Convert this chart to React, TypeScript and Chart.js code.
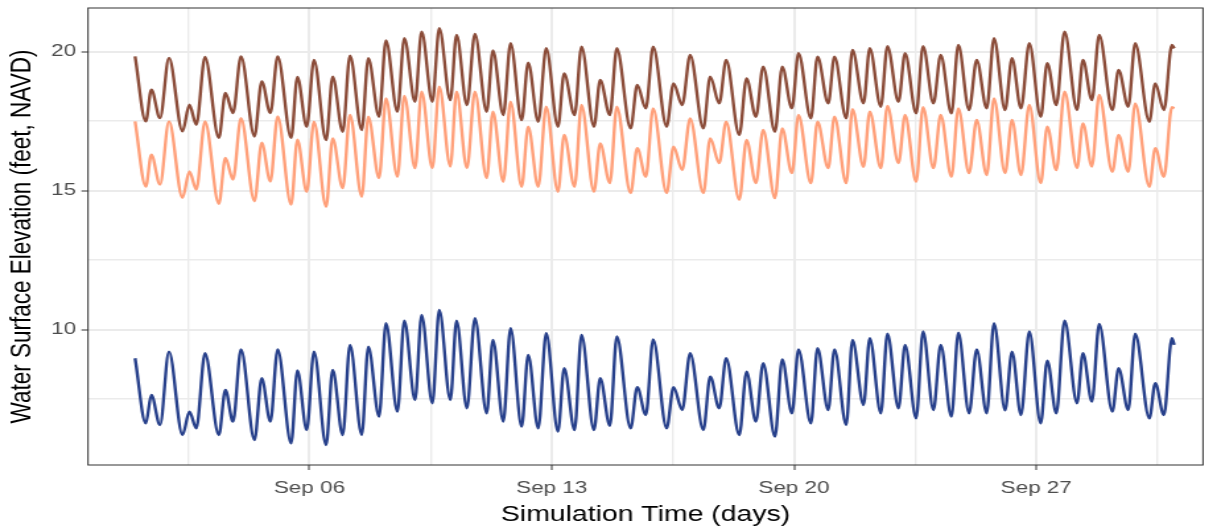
import React, { useEffect, useRef } from 'react';
import { Chart, registerables } from 'chart.js';

Chart.register(...registerables);

// Time of each tidal extreme, in days of September (Sep 1 = 1)
const TIMES = [
  0.96, 1.27, 1.43, 1.68, 1.94, 2.33, 2.53, 2.73, 2.98, 3.38,
  3.57, 3.79, 4.02, 4.41, 4.62, 4.87, 5.08, 5.47, 5.65, 5.92,
  6.13, 6.48, 6.67, 6.96, 7.17, 7.51, 7.70, 8.01, 8.21, 8.54,
  8.74, 9.05, 9.24, 9.55, 9.75, 10.07, 10.25, 10.55, 10.78, 11.12,
  11.30, 11.60, 11.81, 12.13, 12.32, 12.61, 12.84, 13.18, 13.36, 13.66,
  13.86, 14.22, 14.40, 14.68, 14.88, 15.28, 15.47, 15.72, 15.93, 16.32,
  16.52, 16.77, 17.00, 17.38, 17.58, 17.84, 18.04, 18.42, 18.63, 18.90,
  19.11, 19.45, 19.66, 19.94, 20.13, 20.49, 20.68, 20.99, 21.17, 21.51,
  21.69, 22.01, 22.19, 22.51, 22.70, 23.02, 23.21, 23.53, 23.73, 24.03,
  24.24, 24.55, 24.75, 25.06, 25.28, 25.57, 25.78, 26.10, 26.30, 26.56,
  26.80, 27.13, 27.32, 27.58, 27.82, 28.18, 28.35, 28.61, 28.82, 29.20,
  29.38, 29.66, 29.86, 30.27, 30.44, 30.69, 30.92, 30.99,
];

const UPSTREAM = [
  19.83, 17.49, 18.63, 17.61, 19.77, 17.13, 18.09, 17.37, 19.81, 16.90,
  18.51, 17.79, 19.83, 16.95, 18.93, 17.79, 19.83, 16.90, 19.09, 17.30,
  19.70, 16.82, 19.10, 17.12, 19.85, 17.18, 19.76, 17.66, 20.40, 17.84,
  20.48, 18.20, 20.72, 18.20, 20.84, 18.26, 20.60, 18.08, 20.64, 17.84,
  20.04, 17.72, 20.30, 17.54, 19.60, 17.48, 20.12, 17.30, 19.22, 17.72,
  20.18, 17.30, 18.98, 17.72, 20.12, 17.24, 18.80, 17.96, 20.18, 17.30,
  18.86, 18.08, 19.88, 17.24, 19.10, 18.14, 19.70, 17.00, 19.04, 17.66,
  19.46, 17.12, 19.46, 17.96, 19.94, 17.60, 19.82, 18.14, 19.82, 17.60,
  20.06, 18.14, 20.12, 18.02, 20.20, 18.20, 19.94, 17.78, 20.20, 18.14,
  19.88, 17.78, 20.24, 17.90, 19.70, 17.96, 20.48, 17.90, 19.76, 17.96,
  20.30, 17.66, 19.58, 18.08, 20.72, 17.90, 19.70, 18.26, 20.60, 17.90,
  19.34, 18.02, 20.30, 17.48, 18.86, 17.90, 20.24, 20.12,
];

const MIDSTREAM = [
  17.49, 15.15, 16.29, 15.22, 17.49, 14.74, 15.69, 15.04, 17.49, 14.53,
  16.18, 15.40, 17.61, 14.62, 16.72, 15.33, 17.67, 14.50, 16.83, 14.96,
  17.48, 14.42, 16.88, 15.09, 17.72, 14.78, 17.66, 15.45, 18.32, 15.50,
  18.41, 15.81, 18.56, 15.81, 18.74, 15.87, 18.56, 15.81, 18.56, 15.45,
  17.84, 15.32, 18.20, 15.14, 17.30, 15.14, 18.02, 14.96, 17.00, 15.14,
  18.08, 14.96, 16.70, 15.27, 18.02, 14.91, 16.53, 15.50, 17.96, 14.91,
  16.58, 15.74, 17.60, 14.91, 16.88, 15.99, 17.48, 14.67, 16.82, 15.27,
  17.18, 14.73, 17.24, 15.63, 17.72, 15.27, 17.48, 15.81, 17.66, 15.27,
  17.93, 15.86, 17.84, 15.81, 18.05, 15.99, 17.72, 15.32, 18.00, 15.81,
  17.72, 15.50, 17.96, 15.63, 17.54, 15.56, 18.32, 15.63, 17.54, 15.56,
  18.08, 15.27, 17.30, 15.74, 18.56, 15.81, 17.42, 15.87, 18.44, 15.68,
  17.00, 15.68, 18.14, 15.14, 16.53, 15.50, 18.00, 17.96,
];

const DOWNSTREAM = [
  8.97, 6.63, 7.65, 6.57, 9.21, 6.21, 7.05, 6.45, 9.15, 6.21,
  7.83, 6.69, 9.29, 6.03, 8.25, 6.69, 9.29, 5.91, 8.53, 6.39,
  9.21, 5.85, 8.55, 6.21, 9.45, 6.21, 9.39, 6.87, 10.23, 7.05,
  10.32, 7.47, 10.53, 7.35, 10.71, 7.47, 10.32, 7.17, 10.41, 6.99,
  9.63, 6.69, 10.05, 6.51, 9.09, 6.45, 9.87, 6.33, 8.61, 6.39,
  9.81, 6.39, 8.25, 6.54, 9.75, 6.45, 7.93, 6.93, 9.65, 6.45,
  7.93, 7.11, 9.15, 6.39, 8.31, 7.17, 8.97, 6.21, 8.49, 6.69,
  8.79, 6.15, 8.93, 6.99, 9.29, 6.63, 9.33, 7.11, 9.29, 6.57,
  9.63, 7.29, 9.69, 6.99, 9.85, 7.17, 9.45, 6.81, 9.93, 7.11,
  9.45, 6.87, 9.89, 6.99, 9.29, 6.99, 10.23, 7.10, 9.21, 6.93,
  9.93, 6.63, 8.88, 6.99, 10.32, 7.35, 9.15, 7.41, 10.20, 7.05,
  8.61, 7.11, 9.85, 6.81, 8.07, 6.93, 9.69, 9.45,
];

const X_TICK_DAYS = [6, 13, 20, 27];
const X_TICK_LABELS = ['Sep 06', 'Sep 13', 'Sep 20', 'Sep 27'];
const Y_TICKS = [10, 15, 20];

const X_TITLE = 'Simulation Time (days)';
const Y_TITLE = 'Water Surface Elevation (feet, NAVD)';

// rendering geometry (screen px); the picture is stretched horizontally
const FULL_W = 1217;
const FULL_H = 529;
const STRETCH = 1.32;
const W = Math.round(FULL_W / STRETCH);
const SX = FULL_W / W;
const PANEL = { left: 88, right: 1203, top: 8, bottom: 465 };

const withMinor = (major: number[]) => {
  const step = major[1] - major[0];
  const out: number[] = [major[0] - step / 2];
  major.forEach((v) => {
    out.push(v);
    out.push(v + step / 2);
  });
  return out;
};

const FONT = '"Liberation Sans", Arial, Helvetica, sans-serif';

const borderPlugin = {
  id: 'panelBorder',
  afterDatasetsDraw(chart: any) {
    const { ctx, chartArea: a } = chart;
    ctx.save();
    ctx.strokeStyle = '#333333';
    ctx.lineWidth = 1;
    ctx.strokeRect(a.left, a.top, a.right - a.left, a.bottom - a.top);
    ctx.restore();
  },
};

const zeroPad = (scale: any) => {
  scale.paddingTop = 0;
  scale.paddingBottom = 0;
  scale.paddingLeft = 0;
  scale.paddingRight = 0;
};

export default function App() {
  const ref = useRef<HTMLCanvasElement | null>(null);

  useEffect(() => {
    document.body.style.margin = '0';
    const canvas = ref.current;
    if (!canvas) return;

    const xTicks = withMinor(X_TICK_DAYS);
    const yTicks = withMinor(Y_TICKS);
    const isMajorX = (v: number) => X_TICK_DAYS.includes(v);
    const isMajorY = (v: number) => Y_TICKS.includes(v);

    const mk = (data: number[], color: string, label: string) => ({
      label,
      data: TIMES.map((x, i) => ({ x, y: data[i] })),
      borderColor: color,
      backgroundColor: color,
      borderWidth: 2.4,
      pointRadius: 0,
      fill: false,
      cubicInterpolationMode: 'monotone' as const,
    });

    const chart = new Chart(canvas, {
      type: 'line',
      data: {
        datasets: [
          mk(UPSTREAM, '#8B4C39', 'Upstream'),
          mk(MIDSTREAM, '#FFA07A', 'Midstream'),
          mk(DOWNSTREAM, '#27408B', 'Downstream'),
        ],
      },
      plugins: [borderPlugin],
      options: {
        responsive: false,
        devicePixelRatio: 1,
        animation: false,
        events: [],
        layout: {
          padding: {
            left: 0,
            top: PANEL.top,
            right: W - PANEL.right / SX,
            bottom: 0,
          },
        },
        plugins: {
          legend: { display: false },
          tooltip: { enabled: false },
        },
        scales: {
          x: {
            type: 'linear',
            min: -0.4,
            max: 31.82,
            afterBuildTicks: (scale: any) => {
              scale.ticks = xTicks.map((v) => ({ value: v }));
            },
            afterFit: (scale: any) => {
              scale.height = FULL_H - PANEL.bottom;
              zeroPad(scale);
            },
            ticks: {
              autoSkip: false,
              maxRotation: 0,
              minRotation: 0,
              padding: 8,
              color: '#4D4D4D',
              font: { family: FONT, size: 17 },
              callback: (v: any) => {
                const i = X_TICK_DAYS.indexOf(Number(v));
                return i >= 0 ? X_TICK_LABELS[i] : '';
              },
            },
            grid: {
              color: '#EBEBEB',
              lineWidth: (c: any) => (c.tick && isMajorX(c.tick.value) ? 2 : 1.4),
              tickLength: 5,
              tickColor: (c: any) => (c.tick && isMajorX(c.tick.value) ? '#333333' : 'rgba(0,0,0,0)'),
              tickWidth: 1,
            },
            border: { display: false },
            title: {
              display: true,
              text: X_TITLE,
              color: '#000000',
              font: { family: FONT, size: 21.5 },
              padding: { top: 0, bottom: 1 },
            },
          },
          y: {
            type: 'linear',
            min: 5.13,
            max: 21.57,
            afterBuildTicks: (scale: any) => {
              scale.ticks = yTicks.map((v) => ({ value: v }));
            },
            afterFit: (scale: any) => {
              scale.width = PANEL.left / SX;
              zeroPad(scale);
            },
            ticks: {
              autoSkip: false,
              padding: 4,
              color: '#4D4D4D',
              font: { family: FONT, size: 17 },
              callback: (v: any) => (isMajorY(Number(v)) ? String(v) : ''),
            },
            grid: {
              color: '#EBEBEB',
              lineWidth: (c: any) => (c.tick && isMajorY(c.tick.value) ? 2 : 1.4),
              tickLength: 5,
              tickColor: (c: any) => (c.tick && isMajorY(c.tick.value) ? '#333333' : 'rgba(0,0,0,0)'),
              tickWidth: 1,
            },
            border: { display: false },
            title: {
              display: true,
              text: Y_TITLE,
              color: '#000000',
              font: { family: FONT, size: 22.5 },
              padding: { top: 3.5, bottom: 0 },
            },
          },
        },
      },
    } as any);

    return () => chart.destroy();
  }, []);

  return (
    <div style={{ position: 'fixed', left: 0, top: 0, width: FULL_W, height: FULL_H, background: '#ffffff' }}>
      <canvas
        ref={ref}
        width={W}
        height={FULL_H}
        style={{ width: FULL_W + 'px', height: FULL_H + 'px', display: 'block' }}
      />
    </div>
  );
}
